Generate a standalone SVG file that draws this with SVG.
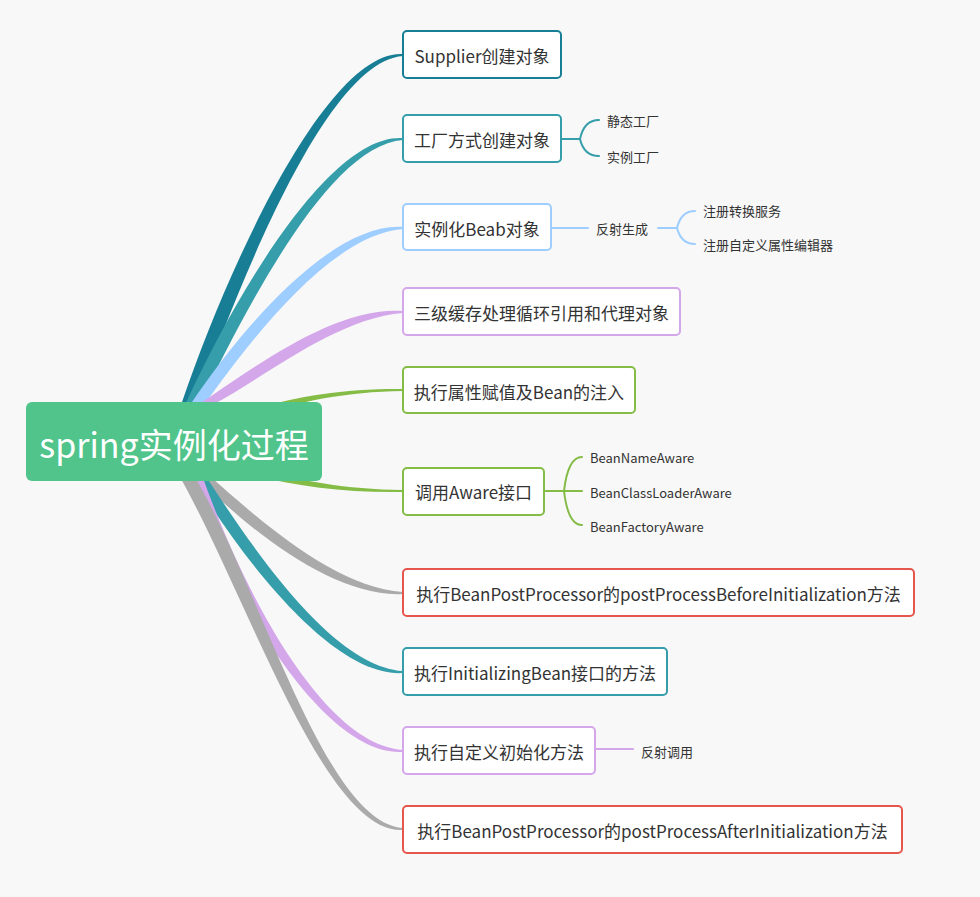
<svg xmlns="http://www.w3.org/2000/svg" width="980" height="897" viewBox="0 0 980 897">
<style>
  text { font-family: "Noto Sans CJK SC", "Noto Sans", "Liberation Sans", sans-serif; fill: #333333; dominant-baseline: central; }
  .nt { font-size: 17px; text-anchor: middle; }
  .st { font-size: 13px; }
  .box { fill: #ffffff; stroke-width: 2; }
  .sub { fill: none; stroke-width: 2; stroke-linecap: round; }
  .c1 { stroke: #177e96; } .f1 { fill: #177e96; }
  .c2 { stroke: #359eaa; } .f2 { fill: #359eaa; }
  .c3 { stroke: #9ecdff; } .f3 { fill: #9ecdff; }
  .c4 { stroke: #d4a6ea; } .f4 { fill: #d4a6ea; }
  .c5 { stroke: #84bc45; } .f5 { fill: #84bc45; }
  .c6 { stroke: #e5574c; }
  .fg { fill: #aaaaaa; }
</style>
<rect x="0" y="0" width="980" height="897" fill="#f8f8f8"/>

<g id="connectors">
  <path class="f1" d="M181,405 C232,255 330,49 403,54 L403,56 C330,61 248,261 195,405 Z"/>
  <path class="f2" d="M185,405 C237,291.5 331,133 403,138 L403,140 C331,145 251,298.5 199,405 Z"/>
  <path class="f3" d="M190,405 C242,327 333,222 403,227 L403,229 C333,234 254,335 204,405 Z"/>
  <path class="f4" d="M198,405 C256,366 336,306 403,311 L403,313 C336,318 264,378 212,405 Z"/>
  <path class="f5" d="M240,414 C290,397 340,388.5 403,389 L403,391 C340,392 290,403 240,422 Z"/>
  <path class="f5" d="M240,464 C290,479 340,489.5 403,490 L403,492 C340,493 290,485 240,472 Z"/>
  <path class="fg" d="M212,478 C260,520.5 336,588 403,592 L403,594 C336,598 250,531.5 198,478 Z"/>
  <path class="f2" d="M207,478 C257,555 334,666.5 403,671 L403,673 C334,677.5 245,563 193,478 Z"/>
  <path class="f4" d="M203,478 C249.5,607.5 328,745.5 403,750 L403,752 C328,756.5 236.5,612.5 189,478 Z"/>
  <path class="fg" d="M195.5,478 C261.5,591 325,823 403,828 L403,830 C325,835 248.5,599 180.5,478 Z"/>

  <path class="sub c2" d="M562,139 H580 M580,139 Q584,120 599,120 M580,139 Q584,156 599,156"/>
  <path class="sub c3" d="M552,228 H588 M658,228 H677 M677,228 Q681,211 695,211 M677,228 Q681,244 695,244"/>
  <path class="sub c5" d="M545,491 H582 M564,491 Q568,457 582,457 M564,491 Q568,525 582,525"/>
  <path class="sub c4" d="M596,749 H633"/>
</g>

<g id="root">
  <rect x="26" y="402" width="296" height="79" rx="6" fill="#50c48a"/>
  <text x="174" y="443" style="font-size:34px; fill:#ffffff; text-anchor:middle;">spring实例化过程</text>
</g>

<g id="n1">
  <rect class="box c1" x="403" y="31" width="158" height="47" rx="4"/>
  <text class="nt" x="482" y="55">Supplier创建对象</text>
</g>
<g id="n2">
  <rect class="box c2" x="403" y="115" width="158" height="47" rx="4"/>
  <text class="nt" x="482" y="139">工厂方式创建对象</text>
  <text class="st" x="607" y="120">静态工厂</text>
  <text class="st" x="607" y="156">实例工厂</text>
</g>
<g id="n3">
  <rect class="box c3" x="403" y="204" width="148" height="46" rx="4"/>
  <text class="nt" x="477" y="228">实例化Beab对象</text>
  <text class="st" x="596" y="228">反射生成</text>
  <text class="st" x="703" y="210">注册转换服务</text>
  <text class="st" x="703" y="244">注册自定义属性编辑器</text>
</g>
<g id="n4">
  <rect class="box c4" x="403" y="288" width="277" height="47" rx="4"/>
  <text class="nt" x="541.5" y="312">三级缓存处理循环引用和代理对象</text>
</g>
<g id="n5">
  <rect class="box c5" x="403" y="367" width="232" height="46" rx="4"/>
  <text class="nt" x="519" y="391">执行属性赋值及Bean的注入</text>
</g>
<g id="n6">
  <rect class="box c5" x="403" y="468" width="141" height="47" rx="4"/>
  <text class="nt" x="473.5" y="491">调用Aware接口</text>
  <text class="st" x="590" y="457">BeanNameAware</text>
  <text class="st" x="590" y="492">BeanClassLoaderAware</text>
  <text class="st" x="590" y="526">BeanFactoryAware</text>
</g>
<g id="n7">
  <rect class="box c6" x="403" y="569" width="511" height="47" rx="4"/>
  <text class="nt" x="658.5" y="593">执行BeanPostProcessor的postProcessBeforeInitialization方法</text>
</g>
<g id="n8">
  <rect class="box c2" x="403" y="648" width="264" height="47" rx="4"/>
  <text class="nt" x="535" y="672">执行InitializingBean接口的方法</text>
</g>
<g id="n9">
  <rect class="box c4" x="403" y="727" width="192" height="47" rx="4"/>
  <text class="nt" x="499" y="751">执行自定义初始化方法</text>
  <text class="st" x="641" y="751">反射调用</text>
</g>
<g id="n10">
  <rect class="box c6" x="403" y="806" width="499" height="47" rx="4"/>
  <text class="nt" x="652.5" y="830">执行BeanPostProcessor的postProcessAfterInitialization方法</text>
</g>
</svg>
